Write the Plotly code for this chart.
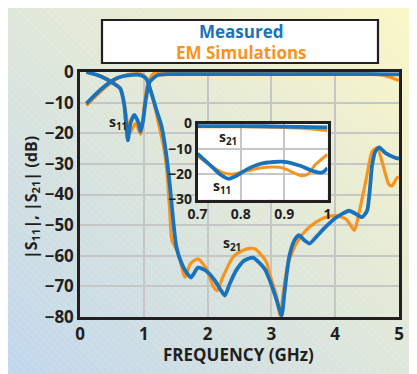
import base64
import plotly.graph_objects as go

# ---------------- data ----------------
meas_s21_f = [0.1, 0.3, 0.5, 0.6, 0.75, 0.95, 1.04, 1.12, 1.20, 1.28, 1.35, 1.41, 1.46, 1.51, 1.59,
              1.67, 1.74, 1.85, 1.98, 2.11, 2.20, 2.27, 2.35, 2.45, 2.58, 2.71, 2.82, 2.90, 2.97, 3.08,
              3.16, 3.21, 3.28, 3.36, 3.43, 3.52, 3.60, 3.70, 3.85, 4.01, 4.22, 4.32, 4.42, 4.50, 4.58,
              4.63, 4.69, 4.79, 4.94, 5.0]
meas_s21_db = [-10.3, -6.2, -2.9, -1.8, -1.1, -1.0, -2.2, -7.0, -12.5, -17.9, -26.6, -37.4, -48.3, -57.0, -62.4,
               -65.5, -67.1, -63.9, -65.0, -68.0, -71.0, -73.0, -69.0, -64.7, -61.5, -60.6, -62.5, -64.5, -67.8, -74.3,
               -79.5, -71.0, -60.3, -55.0, -53.3, -55.0, -56.0, -53.9, -50.6, -47.6, -45.3, -46.3, -47.4, -45.3, -30.2,
               -25.9, -24.6, -26.5, -28.0, -28.3]

meas_s11_f = [0.1, 0.32, 0.53, 0.63, 0.69, 0.727, 0.75, 0.79, 0.85, 0.92, 0.95, 0.99, 1.03, 1.09, 1.21, 1.41,
              2.0, 3.0, 4.0, 4.5, 5.0]
meas_s11_db = [0.0, -1.4, -3.8, -5.4, -10.3, -17.9, -22.3, -16.8, -14.0, -16.8, -19.5, -15.7, -9.2, -3.3, -1.1, -0.7,
               -0.7, -0.7, -0.7, -0.7, -0.8]

em_s21_f = [0.1, 0.3, 0.5, 0.6, 0.75, 0.95, 1.02, 1.08, 1.15, 1.23, 1.31, 1.36, 1.41, 1.44, 1.52, 1.57, 1.62,
            1.65, 1.73, 1.85, 1.98, 2.09, 2.15, 2.24, 2.40, 2.55, 2.66, 2.74, 2.82, 2.92, 2.97, 3.08, 3.14,
            3.18, 3.26, 3.39, 3.54, 3.70, 3.85, 4.01, 4.17, 4.30, 4.37, 4.48, 4.58, 4.66, 4.74, 4.84, 4.89,
            4.97, 5.0]
em_s21_db = [-11.0, -6.8, -3.3, -2.0, -0.8, -0.6, -1.5, -4.0, -9.2, -16.8, -24.4, -32.0, -46.5, -55.0, -58.3, -61.5, -65.8,
             -67.0, -62.6, -61.0, -64.2, -70.1, -71.4, -66.9, -60.4, -58.3, -57.6, -57.7, -59.2, -62.0, -65.7, -73.2, -79.8,
             -73.0, -62.5, -56.0, -51.7, -49.0, -47.4, -46.9, -48.0, -51.7, -46.3, -35.6, -25.9, -24.8, -29.7, -36.7, -37.2,
             -34.5, -34.3]

em_s11_f = [0.1, 0.32, 0.53, 0.63, 0.69, 0.74, 0.78, 0.87, 0.95, 1.01, 1.06, 1.15, 1.3, 2.0, 3.0, 4.0, 4.5, 4.7,
            4.85, 5.0]
em_s11_db = [0.0, -1.2, -3.5, -5.2, -9.5, -16.0, -19.9, -16.8, -20.3, -10.3, -3.8, -0.5, -0.3, -0.3, -0.3, -0.4,
             -0.5, -0.9, -1.6, -2.8]

# inset (0.7 - 1 GHz)
ins_meas_s21_f = [0.7, 0.8, 0.9, 1.0]
ins_meas_s21_db = [-1.0, -1.0, -1.2, -1.5]
ins_em_s21_f = [0.7, 0.8, 0.9, 0.95, 1.0]
ins_em_s21_db = [-1.3, -1.3, -1.6, -2.0, -2.8]
ins_meas_s11_f = [0.70, 0.729, 0.752, 0.771, 0.790, 0.813, 0.844, 0.875, 0.906, 0.937, 0.967, 0.987, 1.0]
ins_meas_s11_db = [-11.9, -16.4, -20.0, -21.8, -20.6, -18.2, -16.0, -15.2, -15.2, -16.7, -18.8, -19.4, -17.6]
ins_em_s11_f = [0.70, 0.729, 0.758, 0.781, 0.813, 0.844, 0.875, 0.898, 0.921, 0.94, 0.955, 0.971, 1.0]
ins_em_s11_db = [-12.8, -16.4, -19.4, -20.0, -18.8, -17.6, -17.2, -17.6, -19.4, -20.6, -20.0, -16.4, -12.2]

main_xticks = [0, 1, 2, 3, 4, 5]
main_yticks = [0, -10, -20, -30, -40, -50, -60, -70, -80]
ins_xticks = [0.7, 0.8, 0.9, 1.0]
ins_xtick_text = ["0.7", "0.8", "0.9", "1"]
ins_yticks = [0, -10, -20, -30]

BLUE = "#1a72bb"
ORANGE = "#f7941d"
INK = "#231f20"
FONT = "Open Sans"

# the page body adds an 8px offset; all pixel positions below are in window pixels
OFF = 8
WIN_W, WIN_H = 417, 374
W, H = WIN_W - OFF, WIN_H - OFF
X0, X1, Y0, Y1 = 80, 399, 72, 317          # plot area in window pixels
L, R, T, B = X0 - OFF, WIN_W - X1, Y0 - OFF, WIN_H - Y1
PW, PH = X1 - X0, Y1 - Y0


def px(x):
    return (x - X0) / PW


def py(y):
    return (Y1 - y) / PH


def lab(v):
    return str(v).replace("-", "\u2212")


fig = go.Figure()

for f, d, c, w in [(em_s11_f, em_s11_db, ORANGE, 3.2), (em_s21_f, em_s21_db, ORANGE, 3.2),
                   (meas_s11_f, meas_s11_db, BLUE, 3.8), (meas_s21_f, meas_s21_db, BLUE, 3.8)]:
    fig.add_trace(go.Scatter(x=f, y=d, mode="lines", line=dict(color=c, width=w, shape="spline", smoothing=0.6),
                             showlegend=False, hoverinfo="skip", xaxis="x", yaxis="y"))

for f, d, c, w in [(ins_em_s21_f, ins_em_s21_db, ORANGE, 3.0), (ins_em_s11_f, ins_em_s11_db, ORANGE, 3.0),
                   (ins_meas_s21_f, ins_meas_s21_db, BLUE, 3.8), (ins_meas_s11_f, ins_meas_s11_db, BLUE, 3.8)]:
    fig.add_trace(go.Scatter(x=f, y=d, mode="lines", line=dict(color=c, width=w, shape="spline", smoothing=0.7),
                             showlegend=False, hoverinfo="skip", xaxis="x2", yaxis="y2"))

svg = f"""<svg xmlns='http://www.w3.org/2000/svg' width='{W}' height='{H}' viewBox='0 0 {W} {H}'>
<defs>
<linearGradient id='g' x1='0' y1='1' x2='1' y2='0'>
<stop offset='0' stop-color='#c0d6ec'/>
<stop offset='0.5' stop-color='#dfe7da'/>
<stop offset='1' stop-color='#fbf7c6'/>
</linearGradient>
<pattern id='p' width='5' height='5' patternUnits='userSpaceOnUse' patternTransform='rotate(-45)'>
<line x1='0' y1='0' x2='0' y2='5' stroke='#ffffff' stroke-opacity='0.35' stroke-width='0.8'/>
</pattern>
</defs>
<rect width='{W}' height='{H}' fill='url(#g)'/>
<rect width='{W}' height='{H}' fill='url(#p)'/>
</svg>"""
uri = "data:image/svg+xml;base64," + base64.b64encode(svg.encode()).decode()

axis_common = dict(showgrid=True, gridcolor="#c6c6c6", gridwidth=1.6, zeroline=False,
                   showline=True, linecolor=INK, linewidth=2.5, mirror=True, ticks="")

fig.update_layout(
    width=W, height=H,
    margin=dict(l=L, r=R, t=T, b=B, autoexpand=False),
    paper_bgcolor="white",
    plot_bgcolor="white",
    showlegend=False,
    images=[dict(source=uri, xref="paper", yref="paper", x=px(OFF), y=py(OFF), sizex=W / PW, sizey=H / PH,
                 sizing="stretch", xanchor="left", yanchor="top", layer="below")],
    xaxis=dict(domain=[0, 1], range=[0, 5], tickvals=main_xticks, ticktext=[lab(v) for v in main_xticks],
               tickfont=dict(family=FONT, size=17, color=INK, weight="bold"), anchor="y", **axis_common),
    yaxis=dict(domain=[0, 1], range=[-80, 0], tickvals=main_yticks, ticktext=[lab(v) for v in main_yticks],
               tickfont=dict(family=FONT, size=17, color=INK, weight="bold"), anchor="x", **axis_common),
    xaxis2=dict(domain=[px(197.5), px(327.5)], range=[0.7, 1.0], tickvals=ins_xticks, ticktext=ins_xtick_text,
                tickfont=dict(family=FONT, size=14, color=INK, weight="bold"), anchor="y2", **axis_common),
    yaxis2=dict(domain=[py(199.5), py(123.5)], range=[-30, 0], tickvals=ins_yticks,
                ticktext=[lab(v) for v in ins_yticks],
                tickfont=dict(family=FONT, size=14, color=INK, weight="bold"), anchor="x2", **axis_common),
    shapes=[dict(type="rect", xref="paper", yref="paper", x0=px(102), x1=px(378), y0=py(63), y1=py(20),
                 fillcolor="white", line=dict(color=INK, width=2.2), layer="above")],
)

ann = [
    ("<b>Measured</b>", px(241), py(31), "paper", "paper", 17, BLUE, 0),
    ("<b>EM Simulations</b>", px(241), py(53), "paper", "paper", 17, ORANGE, 0),
    ("<b>FREQUENCY (GHz)</b>", px(238), py(354), "paper", "paper", 17, INK, 0),
    ("<b>|S<sub>11</sub>|, |S<sub>21</sub>| (dB)</b>", px(31), py(198), "paper", "paper", 16, INK, -90),
    ("<b>s<sub>11</sub></b>", 0.6, -16.5, "x", "y", 14, INK, 0),
    ("<b>s<sub>21</sub></b>", 2.38, -56, "x", "y", 14, INK, 0),
    ("<b>s<sub>21</sub></b>", 0.77, -5.5, "x2", "y2", 14, INK, 0),
    ("<b>s<sub>11</sub></b>", 0.757, -25, "x2", "y2", 14, INK, 0),
]
for text, x, y, xr, yr, size, color, ang in ann:
    fig.add_annotation(text=text, x=x, y=y, xref=xr, yref=yr, showarrow=False, xanchor="center",
                       yanchor="middle", textangle=ang, font=dict(family=FONT, size=size, color=color))

fig.write_html("out.html")
